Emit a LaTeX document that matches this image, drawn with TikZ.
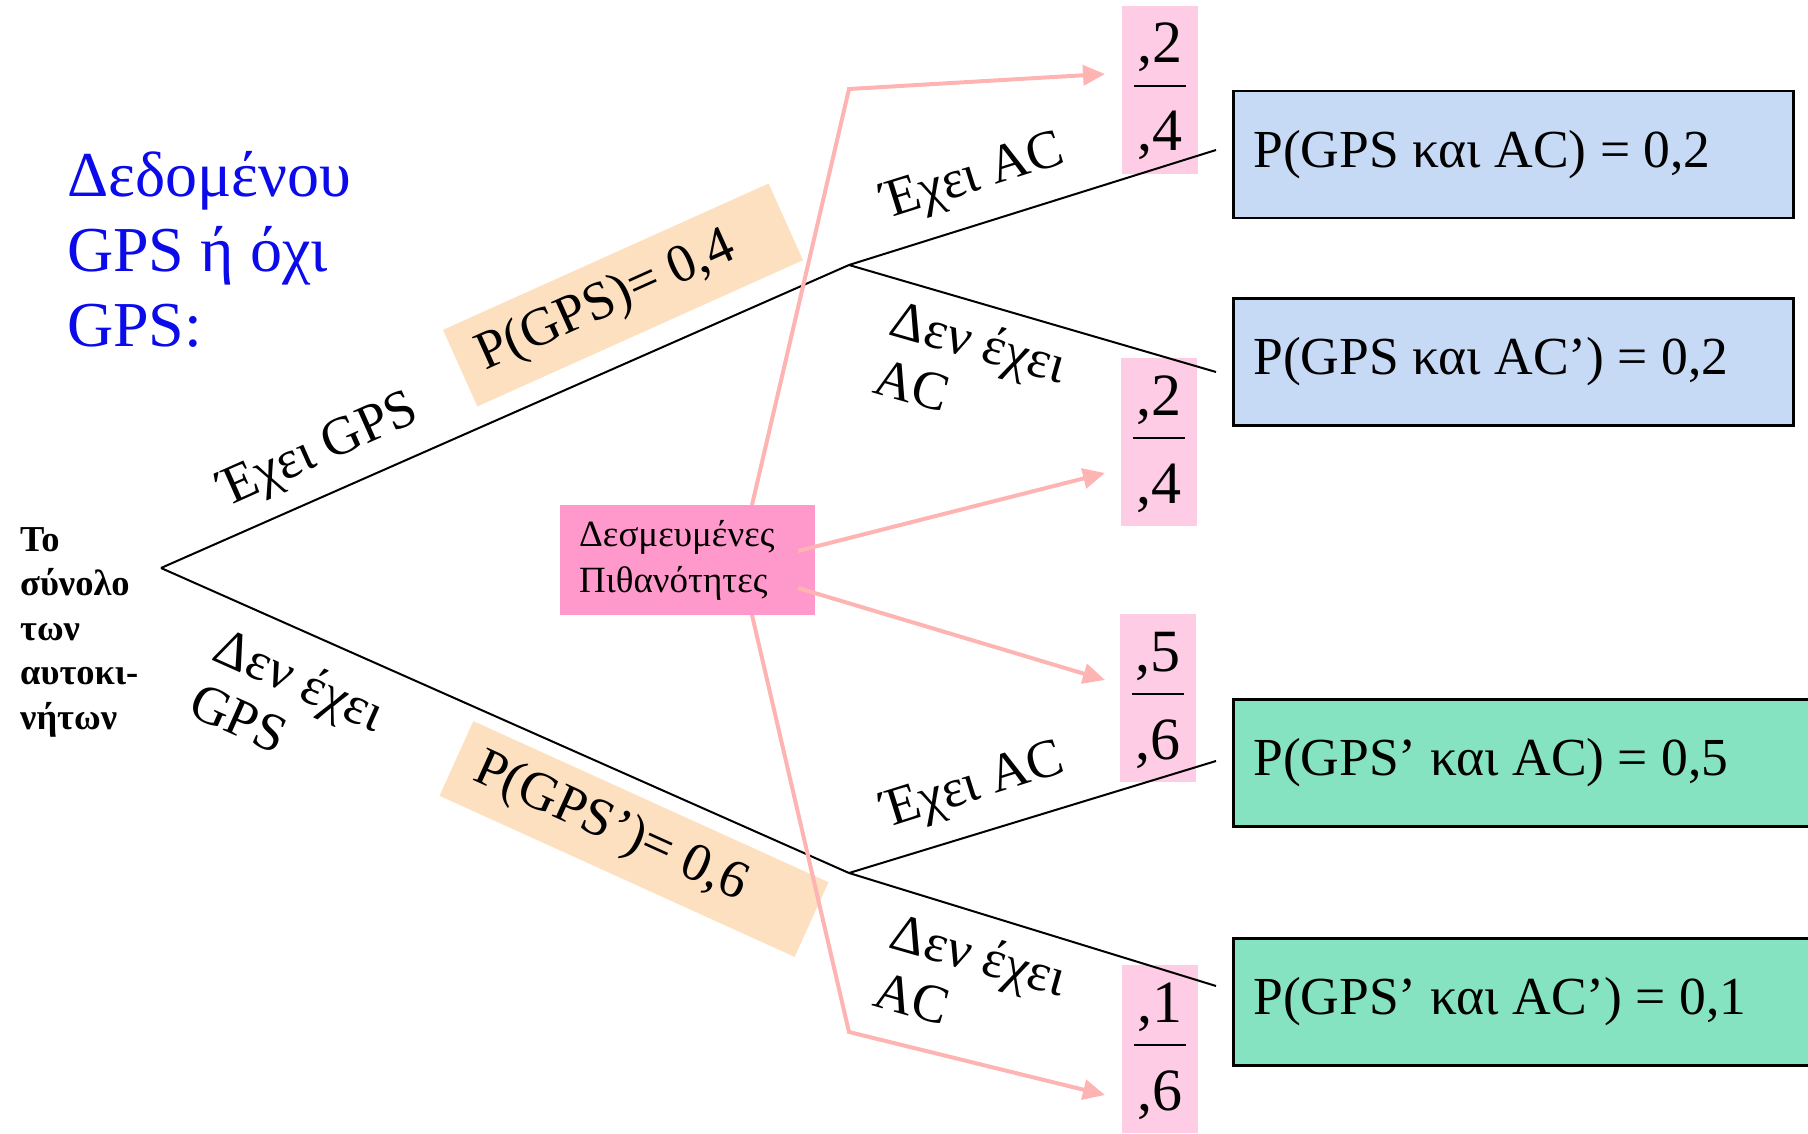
\documentclass[tikz,border=0pt]{standalone}
\usepackage{fontspec}
\setmainfont{Liberation Serif}
\usetikzlibrary{arrows.meta}

\definecolor{jointblue}{RGB}{198,217,245}
\definecolor{jointgreen}{RGB}{134,227,194}
\definecolor{fracpink}{RGB}{255,204,230}
\definecolor{condpink}{RGB}{255,153,204}
\definecolor{arrowpink}{RGB}{255,180,180}
\definecolor{peach}{RGB}{252,224,192}
\definecolor{titleblue}{RGB}{10,10,235}

\newcommand\fsz[2]{\fontsize{#1}{#2}\selectfont}
% left-aligned single line of a given width (keeps the font's own spaces)
\newcommand\flushtext[2]{\makebox[#1][l]{#2}}

% pink box holding a conditional probability written as a fraction
\newcommand\probfrac[5]{%
  \node[fracbg] (#1) at (#2,#3) {};
  \node[fractext] (#1num) at (#2,#3-27) {#4};
  \node[fractext] (#1den) at (#2,#3+61) {#5};
  \draw[line width=2.6pt] (#2-26,#3-4) -- (#2+26,#3-4);
}

\begin{document}
\begin{tikzpicture}[x=1pt,y=-1pt,
  branch/.style={draw=black, line width=2pt},
  condarrow/.style={draw=arrowpink, line width=4pt,
    -{Triangle[length=22pt,width=20pt]}},
  jointbox/.style={draw=black, line width=2.5pt, anchor=north west,
    minimum height=127pt, inner xsep=20pt, inner ysep=0pt,
    font=\fsz{53.5}{60}},
  fracbg/.style={fill=fracpink, minimum width=76pt, minimum height=168pt,
    inner sep=0pt},
  fractext/.style={font=\fsz{60}{66}, inner sep=0pt, anchor=base},
  problabel/.style={fill=peach, inner xsep=22pt, inner ysep=0pt,
    font=\fsz{54}{60}},
  branchlabel/.style={font=\fsz{54}{60}, align=left, inner sep=0pt}]

\useasboundingbox (0,0) rectangle (1808,1134);
\clip (0,0) rectangle (1808,1134);

% title (anchored at the baseline of its last line)
\node[anchor=base west, font=\fsz{64}{75}, text=titleblue, align=left,
  inner sep=0pt] (title) at (67,346) {Δεδομένου\\GPS ή όχι\\GPS:};

% root label (anchored at the baseline of its last line)
\node[anchor=base west, font=\bfseries\fsz{36.5}{44.5}, align=left,
  inner sep=0pt] (rootlbl) at (20,729) {Το\\σύνολο\\των\\αυτοκι-\\νήτων};

% tree points
\coordinate (root) at (161,568);
\coordinate (gps) at (849,265);
\coordinate (ngps) at (849,873);
\coordinate (e1) at (1216,150);
\coordinate (e2) at (1216,372);
\coordinate (e3) at (1216,761);
\coordinate (e4) at (1216,986);

% probability labels on the first level
\node[problabel, rotate=24.2, minimum width=357pt, minimum height=84pt]
  (pgps) at (623,295) {\flushtext{313pt}{P(GPS)= 0,4}};
\node[problabel, rotate=-24.4, minimum width=390pt, minimum height=82pt]
  (pngps) at (634,839) {\flushtext{346pt}{P(GPS’)= 0,6}};

% conditional probabilities
\probfrac{f1}{1160}{90}{,2}{,4}
\probfrac{f2}{1159}{442}{,2}{,4}
\probfrac{f3}{1158}{698}{,5}{,6}
\probfrac{f4}{1160}{1049}{,1}{,6}

% branches
\draw[branch] (root) -- (gps);
\draw[branch] (root) -- (ngps);
\draw[branch] (gps) -- (e1);
\draw[branch] (gps) -- (e2);
\draw[branch] (ngps) -- (e3);
\draw[branch] (ngps) -- (e4);

% branch labels
\node[branchlabel, rotate=24] (lgps) at (320,452) {Έχει GPS};
\node[branchlabel, rotate=-24] (lngps) at (288,706) {Δεν έχει\\GPS};
\node[branchlabel, rotate=17.5] (lac1) at (974,179) {Έχει AC};
\node[branchlabel, rotate=-16] (lnac1) at (971,370) {Δεν έχει\\AC};
\node[branchlabel, rotate=17.5] (lac2) at (974,788) {Έχει AC};
\node[branchlabel, rotate=-16] (lnac2) at (971,983) {Δεν έχει\\AC};

% joint probabilities
\node[jointbox, fill=jointblue] (j1) at (1232,90)
  {\flushtext{520pt}{P(GPS και AC) = 0,2}};
\node[jointbox, fill=jointblue] (j2) at (1232,297)
  {\flushtext{520pt}{P(GPS και AC’) = 0,2}};
\node[jointbox, fill=jointgreen] (j3) at (1232,698)
  {\flushtext{560pt}{P(GPS’ και AC) = 0,5}};
\node[jointbox, fill=jointgreen] (j4) at (1232,937)
  {\flushtext{560pt}{P(GPS’ και AC’) = 0,1}};

% conditional-probability callout
\node[fill=condpink, anchor=north west, minimum width=255pt,
  minimum height=110pt, text width=217pt, inner xsep=19pt, inner ysep=0pt,
  align=left, font=\fsz{37}{46}] (cond) at (560,505)
  {Δεσμευμένες\\Πιθανότητες};

\coordinate (s1) at (752,505);
\coordinate (b1) at (849,89);
\coordinate (t1) at (1105,74);
\coordinate (s2) at (798,551);
\coordinate (t2) at (1105,473);
\coordinate (s3) at (798,588);
\coordinate (t3) at (1105,680);
\coordinate (s4) at (752,615);
\coordinate (b4) at (849,1032);
\coordinate (t4) at (1105,1095);

\draw[condarrow] (s1) -- (b1) -- (t1);
\draw[condarrow] (s2) -- (t2);
\draw[condarrow] (s3) -- (t3);
\draw[condarrow] (s4) -- (b4) -- (t4);
\end{tikzpicture}
\end{document}
